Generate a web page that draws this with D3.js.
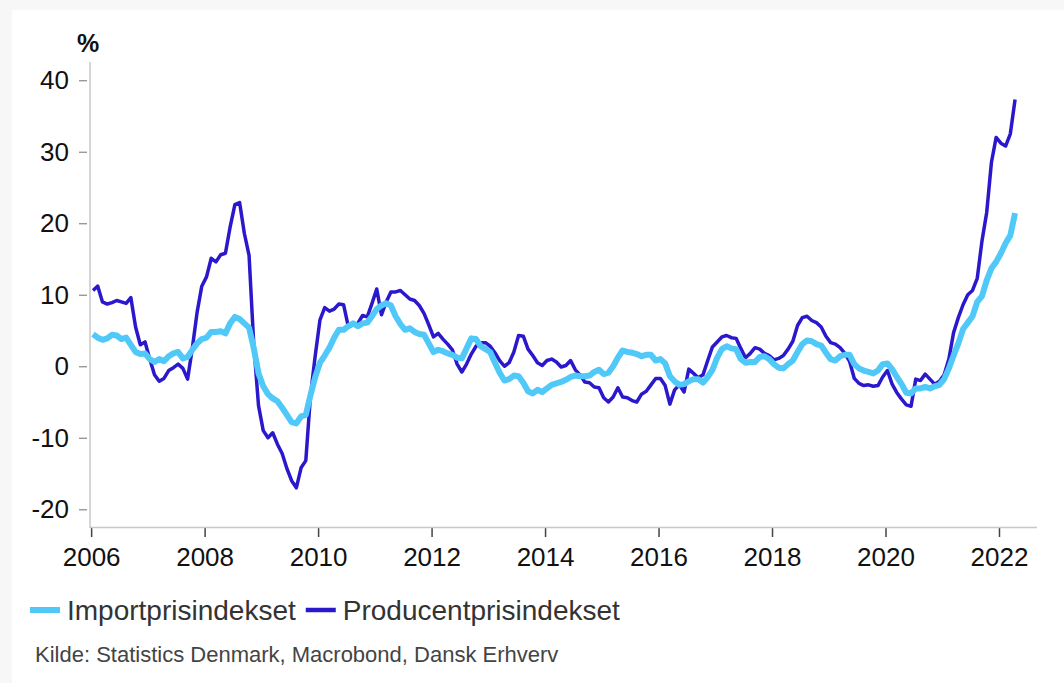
<!DOCTYPE html>
<html>
<head>
<meta charset="utf-8">
<script src="https://cdn.jsdelivr.net/npm/d3@7"></script>
<style>
  html, body { margin: 0; padding: 0; background: #f7f7f7; }
  svg { display: block; }
</style>
</head>
<body>
<script>
// monthly values, Jan 2006 .. Apr 2022 (one row per year)
var startYear = 2006;
var importValues = [
  4.5, 4.0, 3.7, 3.9, 4.4, 4.3, 3.8, 4.0, 3.0, 2.0, 1.7, 1.8,
  1.0, 0.6, 1.0, 0.7, 1.4, 1.8, 2.0, 1.1, 1.3, 2.3, 3.2, 3.8,
  4.0, 4.8, 4.8, 4.9, 4.6, 6.0, 6.9, 6.6, 6.0, 5.4, 2.5, -1.0,
  -2.8, -3.9, -4.5, -4.9, -5.8, -6.8, -7.8, -8.0, -7.0, -6.8, -4.0, -1.5,
  0.5, 1.5, 2.6, 4.0, 5.1, 5.1, 5.6, 6.0, 5.6, 6.0, 6.1, 7.0,
  8.0, 8.5, 8.8, 8.5, 7.0, 5.9, 5.1, 5.3, 4.8, 4.5, 4.4, 3.2,
  2.0, 2.3, 2.1, 1.8, 1.6, 1.2, 1.1, 2.5, 3.9, 3.8, 2.8, 2.4,
  2.0, 0.5, -0.9, -2.0, -1.8, -1.3, -1.4, -2.3, -3.5, -3.8, -3.3, -3.6,
  -3.1, -2.6, -2.4, -2.2, -1.9, -1.5, -1.3, -1.4, -1.4, -1.3, -0.8, -0.5,
  -1.1, -0.9, 0.0, 1.2, 2.2, 2.0, 1.9, 1.7, 1.4, 1.6, 1.6, 0.8,
  1.0, 0.4, -1.4, -2.1, -2.6, -2.5, -2.1, -1.8, -1.8, -2.3, -1.5, -0.5,
  1.2, 2.4, 2.8, 2.5, 2.4, 1.0, 0.5, 0.6, 0.6, 1.3, 1.4, 1.0,
  0.3, -0.2, -0.3, 0.3, 0.8, 2.0, 3.1, 3.6, 3.5, 3.1, 2.9, 1.9,
  1.0, 0.8, 1.4, 1.6, 1.6, 0.3, -0.3, -0.6, -0.8, -1.0, -0.6, 0.3,
  0.4, -0.4, -1.5, -2.5, -3.7, -3.8, -3.1, -3.1, -2.9, -3.1, -2.8, -2.6,
  -1.8, -0.3, 1.5, 3.2, 5.2, 6.1, 7.0, 9.0, 9.8, 12.0, 13.7, 14.6,
  15.8, 17.2, 18.3, 21.4
];
var producerValues = [
  10.6, 11.2, 9.0, 8.7, 8.9, 9.2, 9.0, 8.8, 9.6, 5.5, 3.0, 3.4,
  1.0, -1.2, -2.1, -1.7, -0.6, -0.2, 0.3, -0.3, -1.8, 2.5, 7.5, 11.2,
  12.5, 15.1, 14.6, 15.6, 15.8, 19.5, 22.6, 22.9, 18.6, 15.5, 3.0, -5.5,
  -9.0, -10.0, -9.3, -10.9, -12.2, -14.3, -16.0, -17.0, -14.2, -13.2, -4.0, 1.5,
  6.5, 8.2, 7.7, 8.0, 8.7, 8.6, 5.5, 5.8, 6.0, 7.1, 6.9, 8.8,
  10.8, 7.2, 9.0, 10.4, 10.4, 10.6, 10.0, 9.4, 9.2, 8.5, 7.4, 5.8,
  4.1, 4.6, 3.8, 3.1, 2.3, 0.3, -0.8, 0.3, 1.7, 2.8, 3.3, 3.3,
  2.8, 1.9, 0.8, 0.0, 0.5, 2.0, 4.3, 4.2, 2.4, 1.5, 0.5, 0.1,
  0.8, 1.0, 0.6, -0.1, 0.1, 0.8, -0.5, -1.2, -2.2, -2.3, -2.9, -3.0,
  -4.4, -5.0, -4.3, -3.0, -4.3, -4.4, -4.8, -5.0, -3.9, -3.5, -2.6, -1.7,
  -1.7, -2.7, -5.3, -3.3, -2.6, -3.6, -0.4, -1.0, -1.6, -1.2, 0.8, 2.7,
  3.4, 4.1, 4.3, 4.0, 3.9, 2.5, 1.2, 1.8, 2.6, 2.4, 1.8, 1.5,
  0.9, 1.1, 1.5, 2.4, 3.5, 5.7, 6.8, 7.0, 6.4, 6.1, 5.5, 4.2,
  3.3, 3.1, 2.6, 1.8, 0.7, -1.7, -2.4, -2.7, -2.6, -2.8, -2.7, -1.5,
  -0.6, -2.5, -3.7, -4.6, -5.4, -5.6, -1.8, -2.0, -1.1, -1.8, -2.5, -2.1,
  -1.2, 1.0, 4.7, 6.8, 8.6, 10.0, 10.6, 12.3, 17.5, 21.5, 28.5, 32.0,
  31.2, 30.8, 32.5, 37.3
];
var seriesNames = ["Importprisindekset", "Producentprisindekset"];
var seriesColors = ["#50c8f8", "#2b18cc"];
var yTicks = [-20, -10, 0, 10, 20, 30, 40];
var xTicks = [2006, 2008, 2010, 2012, 2014, 2016, 2018, 2020, 2022];

var width = 1064, height = 683;
var font = "'Liberation Sans', Arial, sans-serif";

var svg = d3.select("body").append("svg")
  .attr("width", width)
  .attr("height", height);

// white card
svg.append("rect")
  .attr("x", 12).attr("y", 10)
  .attr("width", width - 12).attr("height", height - 10)
  .attr("fill", "#fff");

var x = d3.scaleLinear().domain([2005.98, 2022.67]).range([90, 1037]);
var y = d3.scaleLinear().domain([-22.48, 42.55]).range([527, 62]);

// y axis (plain hyphen for negatives)
var yAxis = svg.append("g")
  .attr("transform", "translate(87,0)")
  .call(d3.axisLeft(y).tickValues(yTicks).tickFormat(function (d) { return String(d); })
    .tickSize(8).tickPadding(10));
yAxis.select(".domain").remove();
yAxis.selectAll(".tick line").attr("stroke", "#888").attr("stroke-width", 1.2);
yAxis.selectAll(".tick text")
  .attr("font-family", font).attr("font-size", 26).attr("fill", "#111");

// x axis
var xAxis = svg.append("g")
  .attr("transform", "translate(0,528)")
  .call(d3.axisBottom(x).tickValues(xTicks).tickFormat(function (d) { return String(d); })
    .tickSize(9).tickPadding(11));
xAxis.select(".domain").remove();
xAxis.selectAll(".tick line").attr("stroke", "#444").attr("stroke-width", 1.5);
xAxis.selectAll(".tick text")
  .attr("font-family", font).attr("font-size", 26).attr("fill", "#111");

// axis lines
svg.append("line")
  .attr("x1", 90).attr("x2", 90).attr("y1", 62).attr("y2", 528)
  .attr("stroke", "#c8c8c8").attr("stroke-width", 1.5);
svg.append("line")
  .attr("x1", 90).attr("x2", 1037).attr("y1", 527.5).attr("y2", 527.5)
  .attr("stroke", "#c8c8c8").attr("stroke-width", 1.5);

svg.append("text")
  .attr("x", 77).attr("y", 52)
  .attr("font-family", font).attr("font-size", 25).attr("font-weight", "bold")
  .attr("fill", "#111")
  .text("%");

var line = d3.line()
  .x(function (d, i) { return x(startYear + (i + 0.4) / 12); })
  .y(function (d) { return y(d); });

svg.append("path")
  .datum(producerValues)
  .attr("d", line)
  .attr("fill", "none")
  .attr("stroke", seriesColors[1])
  .attr("stroke-width", 3.5)
  .attr("stroke-linejoin", "round");

svg.append("path")
  .datum(importValues)
  .attr("d", line)
  .attr("fill", "none")
  .attr("stroke", seriesColors[0])
  .attr("stroke-width", 6)
  .attr("stroke-linejoin", "round");

// legend
var lx = 30;
seriesNames.forEach(function (name, i) {
  svg.append("line")
    .attr("x1", lx).attr("x2", lx + 30)
    .attr("y1", 610).attr("y2", 610)
    .attr("stroke", seriesColors[i])
    .attr("stroke-width", i == 0 ? 6 : 4.5);
  var t = svg.append("text")
    .attr("x", lx + 37).attr("y", 620)
    .attr("font-family", font).attr("font-size", 28)
    .attr("fill", "#333")
    .text(name);
  lx = lx + 37 + t.node().getComputedTextLength() + 10;
});

svg.append("text")
  .attr("x", 35).attr("y", 662)
  .attr("font-family", font).attr("font-size", 22)
  .attr("fill", "#444")
  .text("Kilde: Statistics Denmark, Macrobond, Dansk Erhverv");
</script>
</body>
</html>
